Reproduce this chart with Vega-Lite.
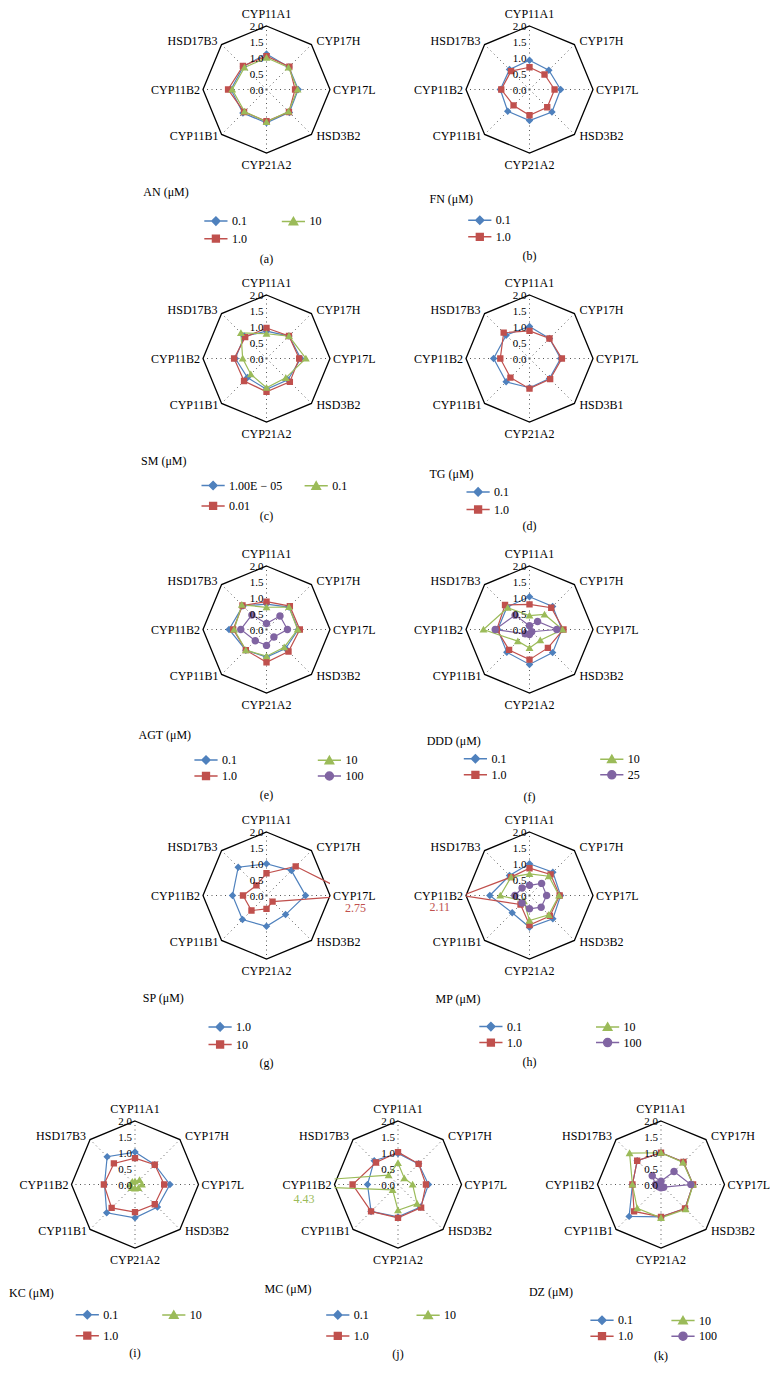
{
"$schema":"https://vega.github.io/schema/vega-lite/v6.json",
"background":"white",
"padding":{"left":8.5,"top":8,"right":5,"bottom":5},
"config":{"view":{"stroke":null},"text":{"font":"Liberation Serif","fontSize":12,"color":"black"},
"title":{"font":"Liberation Serif","fontSize":12,"fontWeight":"normal","color":"black","orient":"bottom","offset":6,"anchor":"middle","frame":"group"},
"legend":{"labelFont":"Liberation Serif","labelFontSize":12,"labelColor":"black","titleFont":"Liberation Serif","titleFontSize":12,"titleFontWeight":"normal","titleColor":"black","padding":0,"symbolStrokeWidth":1.5,"titleAnchor":"start","symbolSize":64,"labelOffset":10,"orient":"none"}},
"datasets":{
"ticks":[{"v":0},{"v":0.5},{"v":1},{"v":1.5},{"v":2}],
"a":[{"s":"0.1","g":"CYP11A1","v":1.12},{"s":"0.1","g":"CYP17H","v":1.0},{"s":"0.1","g":"CYP17L","v":1.0},{"s":"0.1","g":"HSD3B2","v":1.02},{"s":"0.1","g":"CYP21A2","v":1.05},{"s":"0.1","g":"CYP11B1","v":1.05},{"s":"0.1","g":"CYP11B2","v":1.12},{"s":"0.1","g":"HSD17B3","v":1.03},
{"s":"1.0","g":"CYP11A1","v":1.05},{"s":"1.0","g":"CYP17H","v":1.02},{"s":"1.0","g":"CYP17L","v":0.9},{"s":"1.0","g":"HSD3B2","v":1.0},{"s":"1.0","g":"CYP21A2","v":1.0},{"s":"1.0","g":"CYP11B1","v":1.0},{"s":"1.0","g":"CYP11B2","v":1.21},{"s":"1.0","g":"HSD17B3","v":1.05},
{"s":"10","g":"CYP11A1","v":1.0},{"s":"10","g":"CYP17H","v":0.98},{"s":"10","g":"CYP17L","v":0.98},{"s":"10","g":"HSD3B2","v":0.98},{"s":"10","g":"CYP21A2","v":1.02},{"s":"10","g":"CYP11B1","v":0.98},{"s":"10","g":"CYP11B2","v":1.08},{"s":"10","g":"HSD17B3","v":0.98}],
"b":[{"s":"0.1","g":"CYP11A1","v":0.92},{"s":"0.1","g":"CYP17H","v":0.86},{"s":"0.1","g":"CYP17L","v":0.98},{"s":"0.1","g":"HSD3B2","v":1.0},{"s":"0.1","g":"CYP21A2","v":0.98},{"s":"0.1","g":"CYP11B1","v":0.97},{"s":"0.1","g":"CYP11B2","v":0.92},{"s":"0.1","g":"HSD17B3","v":0.89},
{"s":"1.0","g":"CYP11A1","v":0.7},{"s":"1.0","g":"CYP17H","v":0.67},{"s":"1.0","g":"CYP17L","v":0.79},{"s":"1.0","g":"HSD3B2","v":0.79},{"s":"1.0","g":"CYP21A2","v":0.81},{"s":"1.0","g":"CYP11B1","v":0.71},{"s":"1.0","g":"CYP11B2","v":0.89},{"s":"1.0","g":"HSD17B3","v":0.82}],
"c":[{"s":"1.00E − 05","g":"CYP11A1","v":0.86},{"s":"1.00E − 05","g":"CYP17H","v":1.0},{"s":"1.00E − 05","g":"CYP17L","v":1.08},{"s":"1.00E − 05","g":"HSD3B2","v":0.95},{"s":"1.00E − 05","g":"CYP21A2","v":0.97},{"s":"1.00E − 05","g":"CYP11B1","v":0.85},{"s":"1.00E − 05","g":"CYP11B2","v":0.98},{"s":"1.00E − 05","g":"HSD17B3","v":0.99},
{"s":"0.01","g":"CYP11A1","v":0.96},{"s":"0.01","g":"CYP17H","v":1.0},{"s":"0.01","g":"CYP17L","v":1.03},{"s":"0.01","g":"HSD3B2","v":1.04},{"s":"0.01","g":"CYP21A2","v":1.05},{"s":"0.01","g":"CYP11B1","v":1.0},{"s":"0.01","g":"CYP11B2","v":1.02},{"s":"0.01","g":"HSD17B3","v":0.95},
{"s":"0.1","g":"CYP11A1","v":0.78},{"s":"0.1","g":"CYP17H","v":1.0},{"s":"0.1","g":"CYP17L","v":1.24},{"s":"0.1","g":"HSD3B2","v":0.86},{"s":"0.1","g":"CYP21A2","v":0.92},{"s":"0.1","g":"CYP11B1","v":0.7},{"s":"0.1","g":"CYP11B2","v":0.75},{"s":"0.1","g":"HSD17B3","v":1.14}],
"d":[{"s":"0.1","g":"CYP11A1","v":1.01},{"s":"0.1","g":"CYP17H","v":0.89},{"s":"0.1","g":"CYP17L","v":0.98},{"s":"0.1","g":"HSD3B1","v":0.89},{"s":"0.1","g":"CYP21A2","v":0.92},{"s":"0.1","g":"CYP11B1","v":1.04},{"s":"0.1","g":"CYP11B2","v":1.13},{"s":"0.1","g":"HSD17B3","v":1.04},
{"s":"1.0","g":"CYP11A1","v":0.87},{"s":"1.0","g":"CYP17H","v":0.89},{"s":"1.0","g":"CYP17L","v":1.02},{"s":"1.0","g":"HSD3B1","v":0.92},{"s":"1.0","g":"CYP21A2","v":0.95},{"s":"1.0","g":"CYP11B1","v":0.85},{"s":"1.0","g":"CYP11B2","v":0.92},{"s":"1.0","g":"HSD17B3","v":1.15}],
"e":[{"s":"0.1","g":"CYP11A1","v":0.8},{"s":"0.1","g":"CYP17H","v":1.0},{"s":"0.1","g":"CYP17L","v":1.0},{"s":"0.1","g":"HSD3B2","v":0.85},{"s":"0.1","g":"CYP21A2","v":0.87},{"s":"0.1","g":"CYP11B1","v":0.92},{"s":"0.1","g":"CYP11B2","v":1.18},{"s":"0.1","g":"HSD17B3","v":1.05},
{"s":"1.0","g":"CYP11A1","v":0.88},{"s":"1.0","g":"CYP17H","v":1.04},{"s":"1.0","g":"CYP17L","v":1.05},{"s":"1.0","g":"HSD3B2","v":0.98},{"s":"1.0","g":"CYP21A2","v":1.03},{"s":"1.0","g":"CYP11B1","v":0.92},{"s":"1.0","g":"CYP11B2","v":1.05},{"s":"1.0","g":"HSD17B3","v":1.07},
{"s":"10","g":"CYP11A1","v":0.7},{"s":"10","g":"CYP17H","v":1.0},{"s":"10","g":"CYP17L","v":0.98},{"s":"10","g":"HSD3B2","v":0.79},{"s":"10","g":"CYP21A2","v":0.84},{"s":"10","g":"CYP11B1","v":0.92},{"s":"10","g":"CYP11B2","v":1.02},{"s":"10","g":"HSD17B3","v":1.1},
{"s":"100","g":"CYP11A1","v":0.19},{"s":"100","g":"CYP17H","v":0.6},{"s":"100","g":"CYP17L","v":0.66},{"s":"100","g":"HSD3B2","v":0.33},{"s":"100","g":"CYP21A2","v":0.5},{"s":"100","g":"CYP11B1","v":0.5},{"s":"100","g":"CYP11B2","v":0.81},{"s":"100","g":"HSD17B3","v":0.65}],
"f":[{"s":"0.1","g":"CYP11A1","v":1.03},{"s":"0.1","g":"CYP17H","v":1.03},{"s":"0.1","g":"CYP17L","v":1.02},{"s":"0.1","g":"HSD3B2","v":1.03},{"s":"0.1","g":"CYP21A2","v":1.1},{"s":"0.1","g":"CYP11B1","v":1.01},{"s":"0.1","g":"CYP11B2","v":1.0},{"s":"0.1","g":"HSD17B3","v":1.0},
{"s":"1.0","g":"CYP11A1","v":0.79},{"s":"1.0","g":"CYP17H","v":0.97},{"s":"1.0","g":"CYP17L","v":1.07},{"s":"1.0","g":"HSD3B2","v":0.82},{"s":"1.0","g":"CYP21A2","v":0.95},{"s":"1.0","g":"CYP11B1","v":0.91},{"s":"1.0","g":"CYP11B2","v":1.03},{"s":"1.0","g":"HSD17B3","v":1.09},
{"s":"10","g":"CYP11A1","v":0.44},{"s":"10","g":"CYP17H","v":0.67},{"s":"10","g":"CYP17L","v":1.04},{"s":"10","g":"HSD3B2","v":0.48},{"s":"10","g":"CYP21A2","v":0.58},{"s":"10","g":"CYP11B1","v":0.52},{"s":"10","g":"CYP11B2","v":1.45},{"s":"10","g":"HSD17B3","v":0.97},
{"s":"25","g":"CYP11A1","v":0.12},{"s":"25","g":"CYP17H","v":0.36},{"s":"25","g":"CYP17L","v":0.86},{"s":"25","g":"HSD3B2","v":0.1},{"s":"25","g":"CYP21A2","v":0.16},{"s":"25","g":"CYP11B1","v":0.19},{"s":"25","g":"CYP11B2","v":1.08},{"s":"25","g":"HSD17B3","v":0.64}],
"g":[{"s":"1.0","g":"CYP11A1","v":1.0},{"s":"1.0","g":"CYP17H","v":1.11},{"s":"1.0","g":"CYP17L","v":1.23},{"s":"1.0","g":"HSD3B2","v":0.85},{"s":"1.0","g":"CYP21A2","v":0.97},{"s":"1.0","g":"CYP11B1","v":1.07},{"s":"1.0","g":"CYP11B2","v":1.07},{"s":"1.0","g":"HSD17B3","v":1.26},
{"s":"10","g":"CYP11A1","v":0.7},{"s":"10","g":"CYP17H","v":1.3},{"s":"10","g":"CYP17L","v":2.75},{"s":"10","g":"HSD3B2","v":0.27},{"s":"10","g":"CYP21A2","v":0.42},{"s":"10","g":"CYP11B1","v":0.67},{"s":"10","g":"CYP11B2","v":0.74},{"s":"10","g":"HSD17B3","v":0.45}],
"h":[{"s":"0.1","g":"CYP11A1","v":1.0},{"s":"0.1","g":"CYP17H","v":1.04},{"s":"0.1","g":"CYP17L","v":0.98},{"s":"0.1","g":"HSD3B2","v":1.04},{"s":"0.1","g":"CYP21A2","v":1.0},{"s":"0.1","g":"CYP11B1","v":0.77},{"s":"0.1","g":"CYP11B2","v":1.25},{"s":"0.1","g":"HSD17B3","v":0.89},
{"s":"1.0","g":"CYP11A1","v":0.86},{"s":"1.0","g":"CYP17H","v":0.94},{"s":"1.0","g":"CYP17L","v":0.95},{"s":"1.0","g":"HSD3B2","v":0.91},{"s":"1.0","g":"CYP21A2","v":0.93},{"s":"1.0","g":"CYP11B1","v":0.4},{"s":"1.0","g":"CYP11B2","v":2.11},{"s":"1.0","g":"HSD17B3","v":0.82},
{"s":"10","g":"CYP11A1","v":0.68},{"s":"10","g":"CYP17H","v":0.86},{"s":"10","g":"CYP17L","v":0.93},{"s":"10","g":"HSD3B2","v":0.86},{"s":"10","g":"CYP21A2","v":0.79},{"s":"10","g":"CYP11B1","v":0.25},{"s":"10","g":"CYP11B2","v":0.92},{"s":"10","g":"HSD17B3","v":0.82},
{"s":"100","g":"CYP11A1","v":0.32},{"s":"100","g":"CYP17H","v":0.54},{"s":"100","g":"CYP17L","v":0.54},{"s":"100","g":"HSD3B2","v":0.52},{"s":"100","g":"CYP21A2","v":0.42},{"s":"100","g":"CYP11B1","v":0.33},{"s":"100","g":"CYP11B2","v":0.46},{"s":"100","g":"HSD17B3","v":0.33}],
"i":[{"s":"0.1","g":"CYP11A1","v":1.02},{"s":"0.1","g":"CYP17H","v":0.88},{"s":"0.1","g":"CYP17L","v":1.1},{"s":"0.1","g":"HSD3B2","v":1.0},{"s":"0.1","g":"CYP21A2","v":1.05},{"s":"0.1","g":"CYP11B1","v":1.26},{"s":"0.1","g":"CYP11B2","v":0.96},{"s":"0.1","g":"HSD17B3","v":1.24},
{"s":"1.0","g":"CYP11A1","v":0.83},{"s":"1.0","g":"CYP17H","v":0.88},{"s":"1.0","g":"CYP17L","v":0.92},{"s":"1.0","g":"HSD3B2","v":0.88},{"s":"1.0","g":"CYP21A2","v":0.87},{"s":"1.0","g":"CYP11B1","v":1.04},{"s":"1.0","g":"CYP11B2","v":0.98},{"s":"1.0","g":"HSD17B3","v":0.94},
{"s":"10","g":"CYP11A1","v":0.1},{"s":"10","g":"CYP17H","v":0.2},{"s":"10","g":"CYP17L","v":0.22},{"s":"10","g":"HSD3B2","v":0.15},{"s":"10","g":"CYP21A2","v":0.12},{"s":"10","g":"CYP11B1","v":0.15},{"s":"10","g":"CYP11B2","v":0.15},{"s":"10","g":"HSD17B3","v":0.12}],
"j":[{"s":"0.1","g":"CYP11A1","v":0.98},{"s":"0.1","g":"CYP17H","v":0.92},{"s":"0.1","g":"CYP17L","v":0.96},{"s":"0.1","g":"HSD3B2","v":1.0},{"s":"0.1","g":"CYP21A2","v":1.02},{"s":"0.1","g":"CYP11B1","v":1.2},{"s":"0.1","g":"CYP11B2","v":0.96},{"s":"0.1","g":"HSD17B3","v":1.06},
{"s":"1.0","g":"CYP11A1","v":1.02},{"s":"1.0","g":"CYP17H","v":0.92},{"s":"1.0","g":"CYP17L","v":0.88},{"s":"1.0","g":"HSD3B2","v":1.03},{"s":"1.0","g":"CYP21A2","v":1.05},{"s":"1.0","g":"CYP11B1","v":1.2},{"s":"1.0","g":"CYP11B2","v":1.43},{"s":"1.0","g":"HSD17B3","v":0.98},
{"s":"10","g":"CYP11A1","v":0.68},{"s":"10","g":"CYP17H","v":0.28},{"s":"10","g":"CYP17L","v":0.46},{"s":"10","g":"HSD3B2","v":0.85},{"s":"10","g":"CYP21A2","v":0.81},{"s":"10","g":"CYP11B1","v":0.24},{"s":"10","g":"CYP11B2","v":4.43},{"s":"10","g":"HSD17B3","v":0.42}],
"k":[{"s":"0.1","g":"CYP11A1","v":1.0},{"s":"0.1","g":"CYP17H","v":1.0},{"s":"0.1","g":"CYP17L","v":1.01},{"s":"0.1","g":"HSD3B2","v":1.07},{"s":"0.1","g":"CYP21A2","v":1.02},{"s":"0.1","g":"CYP11B1","v":1.42},{"s":"0.1","g":"CYP11B2","v":0.9},{"s":"0.1","g":"HSD17B3","v":1.06},
{"s":"1.0","g":"CYP11A1","v":1.0},{"s":"1.0","g":"CYP17H","v":1.0},{"s":"1.0","g":"CYP17L","v":1.01},{"s":"1.0","g":"HSD3B2","v":1.07},{"s":"1.0","g":"CYP21A2","v":1.02},{"s":"1.0","g":"CYP11B1","v":1.2},{"s":"1.0","g":"CYP11B2","v":0.9},{"s":"1.0","g":"HSD17B3","v":1.06},
{"s":"10","g":"CYP11A1","v":1.0},{"s":"10","g":"CYP17H","v":0.98},{"s":"10","g":"CYP17L","v":1.01},{"s":"10","g":"HSD3B2","v":1.1},{"s":"10","g":"CYP21A2","v":1.05},{"s":"10","g":"CYP11B1","v":1.06},{"s":"10","g":"CYP11B2","v":0.9},{"s":"10","g":"HSD17B3","v":1.4},
{"s":"100","g":"CYP11A1","v":0.1},{"s":"100","g":"CYP17H","v":0.58},{"s":"100","g":"CYP17L","v":0.94},{"s":"100","g":"HSD3B2","v":0.12},{"s":"100","g":"CYP21A2","v":0.1},{"s":"100","g":"CYP11B1","v":0.1},{"s":"100","g":"CYP11B2","v":0.17},{"s":"100","g":"HSD17B3","v":0.39}]
},
"resolve":{"scale":{"color":"independent","shape":"independent"}},
"columns":5,"spacing":{"row":0,"column":4.5},"bounds":"flush",
"concat":[
{"width":1,"height":1,"data":{"values":[]},"mark":"point"},
{"width":127,"height":127,"data":{"name":"a"},"title":{"text":"(a)","offset":9.2},
"transform":[{"calculate":"datum.g == 'HSD3B1' ? 3 : indexof(['CYP11A1','CYP17H','CYP17L','HSD3B2','CYP21A2','CYP11B1','CYP11B2','HSD17B3'], datum.g)","as":"k"},{"calculate":"datum.k*PI/4","as":"t"},{"calculate":"datum.v*sin(datum.t)","as":"x"},{"calculate":"datum.v*cos(datum.t)","as":"y"},{"calculate":"2*sin(datum.t)","as":"ax"},{"calculate":"2*cos(datum.t)","as":"ay"},{"calculate":"0","as":"o"}],
"layer":[
{"transform":[{"filter":"datum.s=='0.1'"}],"mark":{"type":"rule","strokeDash":[1,3.5],"color":"#555","strokeWidth":1},"encoding":{"x":{"field":"o","type":"quantitative","scale":{"domain":[-2,2],"nice":false,"zero":false},"axis":null},"y":{"field":"o","type":"quantitative","scale":{"domain":[-2,2],"nice":false,"zero":false},"axis":null},"x2":{"field":"ax"},"y2":{"field":"ay"}}},
{"transform":[{"filter":"datum.s=='0.1'"}],"mark":{"type":"line","interpolate":"linear-closed","color":"black","strokeWidth":1.3},"encoding":{"x":{"field":"ax","type":"quantitative"},"y":{"field":"ay","type":"quantitative"},"order":{"field":"k"}}},
{"mark":{"type":"line","interpolate":"linear-closed","strokeWidth":1.2,"clip":true},"encoding":{"x":{"field":"x","type":"quantitative"},"y":{"field":"y","type":"quantitative"},"order":{"field":"k"},"color":{"field":"s","type":"nominal","scale":{"domain":["0.1","1.0","10"],"range":["#4F81BD","#C0504D","#9BBB59"]},"legend":{"legendX":-59.2,"legendY":161.2,"title":"AN (μM)","titleAlign":"right","columns":2,"columnPadding":18.5,"rowPadding":3.6,"titlePadding":15.9,"symbolOffset":21.1}}}},
{"mark":{"type":"point","filled":true,"size":56,"opacity":1,"clip":true},"encoding":{"x":{"field":"x","type":"quantitative"},"y":{"field":"y","type":"quantitative"},
"color":{"field":"s","type":"nominal","scale":{"domain":["0.1","1.0","10"],"range":["#4F81BD","#C0504D","#9BBB59"]},"legend":{"legendX":-59.2,"legendY":161.2,"title":"AN (μM)","titleAlign":"right","columns":2,"columnPadding":18.5,"rowPadding":3.6,"titlePadding":15.9,"symbolOffset":21.1}},
"shape":{"field":"s","type":"nominal","scale":{"domain":["0.1","1.0","10"],"range":["M-2.9,0H2.9M0,-1L1,0L0,1L-1,0Z","M-2.9,0H2.9M-0.85,-0.85H0.85V0.85H-0.85Z","M-2.9,0H2.9M0,-1L1.05,0.82H-1.05Z"]},"legend":{"legendX":-59.2,"legendY":161.2,"title":"AN (μM)","titleAlign":"right","columns":2,"columnPadding":18.5,"rowPadding":3.6,"titlePadding":15.9,"symbolOffset":21.1}}}},
{"data":{"name":"ticks"},"transform":[{"calculate":"0","as":"o"}],"mark":{"type":"text","align":"right","dx":-3,"dy":1,"fontSize":11,"baseline":"middle"},"encoding":{"x":{"field":"o","type":"quantitative"},"y":{"field":"v","type":"quantitative"},"text":{"field":"v","type":"quantitative","format":".1f"}}},
{"transform":[{"filter":"datum.s=='0.1'"}],"mark":{"type":"text","baseline":"middle","align":{"expr":"['center','left','left','left','center','right','right','right'][datum.k]"},"dx":{"expr":"[0,5,3,5,0,-3,-3,-4][datum.k]"},"dy":{"expr":"[-12,-4,0,2,12,2,0,-4][datum.k]"}},"encoding":{"x":{"field":"ax","type":"quantitative"},"y":{"field":"ay","type":"quantitative"},"text":{"field":"g"}}}
]},
{"width":1,"height":1,"data":{"values":[]},"mark":"point"},
{"width":127,"height":127,"data":{"name":"b"},"title":{"text":"(b)","offset":7.1},
"transform":[{"calculate":"datum.g == 'HSD3B1' ? 3 : indexof(['CYP11A1','CYP17H','CYP17L','HSD3B2','CYP21A2','CYP11B1','CYP11B2','HSD17B3'], datum.g)","as":"k"},{"calculate":"datum.k*PI/4","as":"t"},{"calculate":"datum.v*sin(datum.t)","as":"x"},{"calculate":"datum.v*cos(datum.t)","as":"y"},{"calculate":"2*sin(datum.t)","as":"ax"},{"calculate":"2*cos(datum.t)","as":"ay"},{"calculate":"0","as":"o"}],
"layer":[
{"transform":[{"filter":"datum.s=='0.1'"}],"mark":{"type":"rule","strokeDash":[1,3.5],"color":"#555","strokeWidth":1},"encoding":{"x":{"field":"o","type":"quantitative","scale":{"domain":[-2,2],"nice":false,"zero":false},"axis":null},"y":{"field":"o","type":"quantitative","scale":{"domain":[-2,2],"nice":false,"zero":false},"axis":null},"x2":{"field":"ax"},"y2":{"field":"ay"}}},
{"transform":[{"filter":"datum.s=='0.1'"}],"mark":{"type":"line","interpolate":"linear-closed","color":"black","strokeWidth":1.3},"encoding":{"x":{"field":"ax","type":"quantitative"},"y":{"field":"ay","type":"quantitative"},"order":{"field":"k"}}},
{"mark":{"type":"line","interpolate":"linear-closed","strokeWidth":1.2,"clip":true},"encoding":{"x":{"field":"x","type":"quantitative"},"y":{"field":"y","type":"quantitative"},"order":{"field":"k"},"color":{"field":"s","type":"nominal","scale":{"domain":["0.1","1.0"],"range":["#4F81BD","#C0504D"]},"legend":{"legendX":-36.5,"legendY":167.8,"title":"FN (μM)","columns":1,"rowPadding":2.6,"titlePadding":8.4,"symbolOffset":44.3}}}},
{"mark":{"type":"point","filled":true,"size":56,"opacity":1,"clip":true},"encoding":{"x":{"field":"x","type":"quantitative"},"y":{"field":"y","type":"quantitative"},
"color":{"field":"s","type":"nominal","scale":{"domain":["0.1","1.0"],"range":["#4F81BD","#C0504D"]},"legend":{"legendX":-36.5,"legendY":167.8,"title":"FN (μM)","columns":1,"rowPadding":2.6,"titlePadding":8.4,"symbolOffset":44.3}},
"shape":{"field":"s","type":"nominal","scale":{"domain":["0.1","1.0"],"range":["M-2.9,0H2.9M0,-1L1,0L0,1L-1,0Z","M-2.9,0H2.9M-0.85,-0.85H0.85V0.85H-0.85Z"]},"legend":{"legendX":-36.5,"legendY":167.8,"title":"FN (μM)","columns":1,"rowPadding":2.6,"titlePadding":8.4,"symbolOffset":44.3}}}},
{"data":{"name":"ticks"},"transform":[{"calculate":"0","as":"o"}],"mark":{"type":"text","align":"right","dx":-3,"dy":1,"fontSize":11,"baseline":"middle"},"encoding":{"x":{"field":"o","type":"quantitative"},"y":{"field":"v","type":"quantitative"},"text":{"field":"v","type":"quantitative","format":".1f"}}},
{"transform":[{"filter":"datum.s=='0.1'"}],"mark":{"type":"text","baseline":"middle","align":{"expr":"['center','left','left','left','center','right','right','right'][datum.k]"},"dx":{"expr":"[0,5,3,5,0,-3,-3,-4][datum.k]"},"dy":{"expr":"[-12,-4,0,2,12,2,0,-4][datum.k]"}},"encoding":{"x":{"field":"ax","type":"quantitative"},"y":{"field":"ay","type":"quantitative"},"text":{"field":"g"}}}
]},
{"width":1,"height":1,"data":{"values":[]},"mark":"point"},
{"width":1,"height":142,"data":{"values":[]},"mark":"point"},
{"width":1,"height":1,"data":{"values":[]},"mark":"point"},
{"width":1,"height":1,"data":{"values":[]},"mark":"point"},
{"width":1,"height":1,"data":{"values":[]},"mark":"point"},
{"width":1,"height":1,"data":{"values":[]},"mark":"point"},
{"width":1,"height":1,"data":{"values":[]},"mark":"point"},
{"width":127,"height":127,"data":{"name":"c"},"title":{"text":"(c)","offset":-1.7},
"transform":[{"calculate":"datum.g == 'HSD3B1' ? 3 : indexof(['CYP11A1','CYP17H','CYP17L','HSD3B2','CYP21A2','CYP11B1','CYP11B2','HSD17B3'], datum.g)","as":"k"},{"calculate":"datum.k*PI/4","as":"t"},{"calculate":"datum.v*sin(datum.t)","as":"x"},{"calculate":"datum.v*cos(datum.t)","as":"y"},{"calculate":"2*sin(datum.t)","as":"ax"},{"calculate":"2*cos(datum.t)","as":"ay"},{"calculate":"0","as":"o"}],
"layer":[
{"transform":[{"filter":"datum.s=='0.01'"}],"mark":{"type":"rule","strokeDash":[1,3.5],"color":"#555","strokeWidth":1},"encoding":{"x":{"field":"o","type":"quantitative","scale":{"domain":[-2,2],"nice":false,"zero":false},"axis":null},"y":{"field":"o","type":"quantitative","scale":{"domain":[-2,2],"nice":false,"zero":false},"axis":null},"x2":{"field":"ax"},"y2":{"field":"ay"}}},
{"transform":[{"filter":"datum.s=='0.01'"}],"mark":{"type":"line","interpolate":"linear-closed","color":"black","strokeWidth":1.3},"encoding":{"x":{"field":"ax","type":"quantitative"},"y":{"field":"ay","type":"quantitative"},"order":{"field":"k"}}},
{"mark":{"type":"line","interpolate":"linear-closed","strokeWidth":1.2,"clip":true},"encoding":{"x":{"field":"x","type":"quantitative"},"y":{"field":"y","type":"quantitative"},"order":{"field":"k"},"color":{"field":"s","type":"nominal","scale":{"domain":["1.00E − 05","0.01","0.1"],"range":["#4F81BD","#C0504D","#9BBB59"]},"legend":{"legendX":-61.5,"legendY":160.8,"title":"SM (μM)","titleAlign":"right","columns":2,"columnPadding":7.1,"rowPadding":6.4,"titlePadding":11.7,"symbolOffset":20.6}}}},
{"mark":{"type":"point","filled":true,"size":56,"opacity":1,"clip":true},"encoding":{"x":{"field":"x","type":"quantitative"},"y":{"field":"y","type":"quantitative"},
"color":{"field":"s","type":"nominal","scale":{"domain":["1.00E − 05","0.01","0.1"],"range":["#4F81BD","#C0504D","#9BBB59"]},"legend":{"legendX":-61.5,"legendY":160.8,"title":"SM (μM)","titleAlign":"right","columns":2,"columnPadding":7.1,"rowPadding":6.4,"titlePadding":11.7,"symbolOffset":20.6}},
"shape":{"field":"s","type":"nominal","scale":{"domain":["1.00E − 05","0.01","0.1"],"range":["M-2.9,0H2.9M0,-1L1,0L0,1L-1,0Z","M-2.9,0H2.9M-0.85,-0.85H0.85V0.85H-0.85Z","M-2.9,0H2.9M0,-1L1.05,0.82H-1.05Z"]},"legend":{"legendX":-61.5,"legendY":160.8,"title":"SM (μM)","titleAlign":"right","columns":2,"columnPadding":7.1,"rowPadding":6.4,"titlePadding":11.7,"symbolOffset":20.6}}}},
{"data":{"name":"ticks"},"transform":[{"calculate":"0","as":"o"}],"mark":{"type":"text","align":"right","dx":-3,"dy":1,"fontSize":11,"baseline":"middle"},"encoding":{"x":{"field":"o","type":"quantitative"},"y":{"field":"v","type":"quantitative"},"text":{"field":"v","type":"quantitative","format":".1f"}}},
{"transform":[{"filter":"datum.s=='0.01'"}],"mark":{"type":"text","baseline":"middle","align":{"expr":"['center','left','left','left','center','right','right','right'][datum.k]"},"dx":{"expr":"[0,5,3,5,0,-3,-3,-4][datum.k]"},"dy":{"expr":"[-12,-4,0,2,12,2,0,-4][datum.k]"}},"encoding":{"x":{"field":"ax","type":"quantitative"},"y":{"field":"ay","type":"quantitative"},"text":{"field":"g"}}}
]},
{"width":1,"height":1,"data":{"values":[]},"mark":"point"},
{"width":127,"height":127,"data":{"name":"d"},"title":{"text":"(d)","offset":4.8},
"transform":[{"calculate":"datum.g == 'HSD3B1' ? 3 : indexof(['CYP11A1','CYP17H','CYP17L','HSD3B2','CYP21A2','CYP11B1','CYP11B2','HSD17B3'], datum.g)","as":"k"},{"calculate":"datum.k*PI/4","as":"t"},{"calculate":"datum.v*sin(datum.t)","as":"x"},{"calculate":"datum.v*cos(datum.t)","as":"y"},{"calculate":"2*sin(datum.t)","as":"ax"},{"calculate":"2*cos(datum.t)","as":"ay"},{"calculate":"0","as":"o"}],
"layer":[
{"transform":[{"filter":"datum.s=='0.1'"}],"mark":{"type":"rule","strokeDash":[1,3.5],"color":"#555","strokeWidth":1},"encoding":{"x":{"field":"o","type":"quantitative","scale":{"domain":[-2,2],"nice":false,"zero":false},"axis":null},"y":{"field":"o","type":"quantitative","scale":{"domain":[-2,2],"nice":false,"zero":false},"axis":null},"x2":{"field":"ax"},"y2":{"field":"ay"}}},
{"transform":[{"filter":"datum.s=='0.1'"}],"mark":{"type":"line","interpolate":"linear-closed","color":"black","strokeWidth":1.3},"encoding":{"x":{"field":"ax","type":"quantitative"},"y":{"field":"ay","type":"quantitative"},"order":{"field":"k"}}},
{"mark":{"type":"line","interpolate":"linear-closed","strokeWidth":1.2,"clip":true},"encoding":{"x":{"field":"x","type":"quantitative"},"y":{"field":"y","type":"quantitative"},"order":{"field":"k"},"color":{"field":"s","type":"nominal","scale":{"domain":["0.1","1.0"],"range":["#4F81BD","#C0504D"]},"legend":{"legendX":-36.5,"legendY":173.5,"title":"TG (μM)","columns":1,"rowPadding":3.6,"titlePadding":5.4,"symbolOffset":42.6}}}},
{"mark":{"type":"point","filled":true,"size":56,"opacity":1,"clip":true},"encoding":{"x":{"field":"x","type":"quantitative"},"y":{"field":"y","type":"quantitative"},
"color":{"field":"s","type":"nominal","scale":{"domain":["0.1","1.0"],"range":["#4F81BD","#C0504D"]},"legend":{"legendX":-36.5,"legendY":173.5,"title":"TG (μM)","columns":1,"rowPadding":3.6,"titlePadding":5.4,"symbolOffset":42.6}},
"shape":{"field":"s","type":"nominal","scale":{"domain":["0.1","1.0"],"range":["M-2.9,0H2.9M0,-1L1,0L0,1L-1,0Z","M-2.9,0H2.9M-0.85,-0.85H0.85V0.85H-0.85Z"]},"legend":{"legendX":-36.5,"legendY":173.5,"title":"TG (μM)","columns":1,"rowPadding":3.6,"titlePadding":5.4,"symbolOffset":42.6}}}},
{"data":{"name":"ticks"},"transform":[{"calculate":"0","as":"o"}],"mark":{"type":"text","align":"right","dx":-3,"dy":1,"fontSize":11,"baseline":"middle"},"encoding":{"x":{"field":"o","type":"quantitative"},"y":{"field":"v","type":"quantitative"},"text":{"field":"v","type":"quantitative","format":".1f"}}},
{"transform":[{"filter":"datum.s=='0.1'"}],"mark":{"type":"text","baseline":"middle","align":{"expr":"['center','left','left','left','center','right','right','right'][datum.k]"},"dx":{"expr":"[0,5,3,5,0,-3,-3,-4][datum.k]"},"dy":{"expr":"[-12,-4,0,2,12,2,0,-4][datum.k]"}},"encoding":{"x":{"field":"ax","type":"quantitative"},"y":{"field":"ay","type":"quantitative"},"text":{"field":"g"}}}
]},
{"width":1,"height":1,"data":{"values":[]},"mark":"point"},
{"width":1,"height":143.5,"data":{"values":[]},"mark":"point"},
{"width":1,"height":1,"data":{"values":[]},"mark":"point"},
{"width":1,"height":1,"data":{"values":[]},"mark":"point"},
{"width":1,"height":1,"data":{"values":[]},"mark":"point"},
{"width":1,"height":1,"data":{"values":[]},"mark":"point"},
{"width":1,"height":1,"data":{"values":[]},"mark":"point"},
{"width":127,"height":127,"data":{"name":"e"},"title":{"text":"(e)","offset":7.4},
"transform":[{"calculate":"datum.g == 'HSD3B1' ? 3 : indexof(['CYP11A1','CYP17H','CYP17L','HSD3B2','CYP21A2','CYP11B1','CYP11B2','HSD17B3'], datum.g)","as":"k"},{"calculate":"datum.k*PI/4","as":"t"},{"calculate":"datum.v*sin(datum.t)","as":"x"},{"calculate":"datum.v*cos(datum.t)","as":"y"},{"calculate":"2*sin(datum.t)","as":"ax"},{"calculate":"2*cos(datum.t)","as":"ay"},{"calculate":"0","as":"o"}],
"layer":[
{"transform":[{"filter":"datum.s=='0.1'"}],"mark":{"type":"rule","strokeDash":[1,3.5],"color":"#555","strokeWidth":1},"encoding":{"x":{"field":"o","type":"quantitative","scale":{"domain":[-2,2],"nice":false,"zero":false},"axis":null},"y":{"field":"o","type":"quantitative","scale":{"domain":[-2,2],"nice":false,"zero":false},"axis":null},"x2":{"field":"ax"},"y2":{"field":"ay"}}},
{"transform":[{"filter":"datum.s=='0.1'"}],"mark":{"type":"line","interpolate":"linear-closed","color":"black","strokeWidth":1.3},"encoding":{"x":{"field":"ax","type":"quantitative"},"y":{"field":"ay","type":"quantitative"},"order":{"field":"k"}}},
{"mark":{"type":"line","interpolate":"linear-closed","strokeWidth":1.2,"clip":true},"encoding":{"x":{"field":"x","type":"quantitative"},"y":{"field":"y","type":"quantitative"},"order":{"field":"k"},"color":{"field":"s","type":"nominal","scale":{"domain":["0.1","1.0","10","100"],"range":["#4F81BD","#C0504D","#9BBB59","#8064A2"]},"legend":{"legendX":-64.5,"legendY":164,"title":"AGT (μM)","columns":2,"columnPadding":24.4,"rowPadding":2,"titlePadding":12,"symbolOffset":61.5}}}},
{"mark":{"type":"point","filled":true,"size":56,"opacity":1,"clip":true},"encoding":{"x":{"field":"x","type":"quantitative"},"y":{"field":"y","type":"quantitative"},
"color":{"field":"s","type":"nominal","scale":{"domain":["0.1","1.0","10","100"],"range":["#4F81BD","#C0504D","#9BBB59","#8064A2"]},"legend":{"legendX":-64.5,"legendY":164,"title":"AGT (μM)","columns":2,"columnPadding":24.4,"rowPadding":2,"titlePadding":12,"symbolOffset":61.5}},
"shape":{"field":"s","type":"nominal","scale":{"domain":["0.1","1.0","10","100"],"range":["M-2.9,0H2.9M0,-1L1,0L0,1L-1,0Z","M-2.9,0H2.9M-0.85,-0.85H0.85V0.85H-0.85Z","M-2.9,0H2.9M0,-1L1.05,0.82H-1.05Z","M-2.9,0H2.9M-1,0A1,1,0,1,1,1,0A1,1,0,1,1,-1,0Z"]},"legend":{"legendX":-64.5,"legendY":164,"title":"AGT (μM)","columns":2,"columnPadding":24.4,"rowPadding":2,"titlePadding":12,"symbolOffset":61.5}}}},
{"data":{"name":"ticks"},"transform":[{"calculate":"0","as":"o"}],"mark":{"type":"text","align":"right","dx":-3,"dy":1,"fontSize":11,"baseline":"middle"},"encoding":{"x":{"field":"o","type":"quantitative"},"y":{"field":"v","type":"quantitative"},"text":{"field":"v","type":"quantitative","format":".1f"}}},
{"transform":[{"filter":"datum.s=='0.1'"}],"mark":{"type":"text","baseline":"middle","align":{"expr":"['center','left','left','left','center','right','right','right'][datum.k]"},"dx":{"expr":"[0,5,3,5,0,-3,-3,-4][datum.k]"},"dy":{"expr":"[-12,-4,0,2,12,2,0,-4][datum.k]"}},"encoding":{"x":{"field":"ax","type":"quantitative"},"y":{"field":"ay","type":"quantitative"},"text":{"field":"g"}}}
]},
{"width":1,"height":1,"data":{"values":[]},"mark":"point"},
{"width":127,"height":127,"data":{"name":"f"},"title":{"text":"(f)","offset":10.4},
"transform":[{"calculate":"datum.g == 'HSD3B1' ? 3 : indexof(['CYP11A1','CYP17H','CYP17L','HSD3B2','CYP21A2','CYP11B1','CYP11B2','HSD17B3'], datum.g)","as":"k"},{"calculate":"datum.k*PI/4","as":"t"},{"calculate":"datum.v*sin(datum.t)","as":"x"},{"calculate":"datum.v*cos(datum.t)","as":"y"},{"calculate":"2*sin(datum.t)","as":"ax"},{"calculate":"2*cos(datum.t)","as":"ay"},{"calculate":"0","as":"o"}],
"layer":[
{"transform":[{"filter":"datum.s=='0.1'"}],"mark":{"type":"rule","strokeDash":[1,3.5],"color":"#555","strokeWidth":1},"encoding":{"x":{"field":"o","type":"quantitative","scale":{"domain":[-2,2],"nice":false,"zero":false},"axis":null},"y":{"field":"o","type":"quantitative","scale":{"domain":[-2,2],"nice":false,"zero":false},"axis":null},"x2":{"field":"ax"},"y2":{"field":"ay"}}},
{"transform":[{"filter":"datum.s=='0.1'"}],"mark":{"type":"line","interpolate":"linear-closed","color":"black","strokeWidth":1.3},"encoding":{"x":{"field":"ax","type":"quantitative"},"y":{"field":"ay","type":"quantitative"},"order":{"field":"k"}}},
{"mark":{"type":"line","interpolate":"linear-closed","strokeWidth":1.2,"clip":true},"encoding":{"x":{"field":"x","type":"quantitative"},"y":{"field":"y","type":"quantitative"},"order":{"field":"k"},"color":{"field":"s","type":"nominal","scale":{"domain":["0.1","1.0","10","25"],"range":["#4F81BD","#C0504D","#9BBB59","#8064A2"]},"legend":{"legendX":-39.3,"legendY":169.8,"title":"DDD (μM)","columns":2,"columnPadding":56.4,"rowPadding":2,"titlePadding":5,"symbolOffset":42.7}}}},
{"mark":{"type":"point","filled":true,"size":56,"opacity":1,"clip":true},"encoding":{"x":{"field":"x","type":"quantitative"},"y":{"field":"y","type":"quantitative"},
"color":{"field":"s","type":"nominal","scale":{"domain":["0.1","1.0","10","25"],"range":["#4F81BD","#C0504D","#9BBB59","#8064A2"]},"legend":{"legendX":-39.3,"legendY":169.8,"title":"DDD (μM)","columns":2,"columnPadding":56.4,"rowPadding":2,"titlePadding":5,"symbolOffset":42.7}},
"shape":{"field":"s","type":"nominal","scale":{"domain":["0.1","1.0","10","25"],"range":["M-2.9,0H2.9M0,-1L1,0L0,1L-1,0Z","M-2.9,0H2.9M-0.85,-0.85H0.85V0.85H-0.85Z","M-2.9,0H2.9M0,-1L1.05,0.82H-1.05Z","M-2.9,0H2.9M-1,0A1,1,0,1,1,1,0A1,1,0,1,1,-1,0Z"]},"legend":{"legendX":-39.3,"legendY":169.8,"title":"DDD (μM)","columns":2,"columnPadding":56.4,"rowPadding":2,"titlePadding":5,"symbolOffset":42.7}}}},
{"data":{"name":"ticks"},"transform":[{"calculate":"0","as":"o"}],"mark":{"type":"text","align":"right","dx":-3,"dy":1,"fontSize":11,"baseline":"middle"},"encoding":{"x":{"field":"o","type":"quantitative"},"y":{"field":"v","type":"quantitative"},"text":{"field":"v","type":"quantitative","format":".1f"}}},
{"transform":[{"filter":"datum.s=='0.1'"}],"mark":{"type":"text","baseline":"middle","align":{"expr":"['center','left','left','left','center','right','right','right'][datum.k]"},"dx":{"expr":"[0,5,3,5,0,-3,-3,-4][datum.k]"},"dy":{"expr":"[-12,-4,0,2,12,2,0,-4][datum.k]"}},"encoding":{"x":{"field":"ax","type":"quantitative"},"y":{"field":"ay","type":"quantitative"},"text":{"field":"g"}}}
]},
{"width":1,"height":1,"data":{"values":[]},"mark":"point"},
{"width":1,"height":139,"data":{"values":[]},"mark":"point"},
{"width":1,"height":1,"data":{"values":[]},"mark":"point"},
{"width":1,"height":1,"data":{"values":[]},"mark":"point"},
{"width":1,"height":1,"data":{"values":[]},"mark":"point"},
{"width":1,"height":1,"data":{"values":[]},"mark":"point"},
{"width":1,"height":1,"data":{"values":[]},"mark":"point"},
{"width":127,"height":127,"data":{"name":"g"},"title":{"text":"(g)","offset":7.1},
"transform":[{"calculate":"datum.g == 'HSD3B1' ? 3 : indexof(['CYP11A1','CYP17H','CYP17L','HSD3B2','CYP21A2','CYP11B1','CYP11B2','HSD17B3'], datum.g)","as":"k"},{"calculate":"datum.k*PI/4","as":"t"},{"calculate":"datum.v*sin(datum.t)","as":"x"},{"calculate":"datum.v*cos(datum.t)","as":"y"},{"calculate":"2*sin(datum.t)","as":"ax"},{"calculate":"2*cos(datum.t)","as":"ay"},{"calculate":"0","as":"o"}],
"layer":[
{"transform":[{"filter":"datum.s=='1.0'"}],"mark":{"type":"rule","strokeDash":[1,3.5],"color":"#555","strokeWidth":1},"encoding":{"x":{"field":"o","type":"quantitative","scale":{"domain":[-2,2],"nice":false,"zero":false},"axis":null},"y":{"field":"o","type":"quantitative","scale":{"domain":[-2,2],"nice":false,"zero":false},"axis":null},"x2":{"field":"ax"},"y2":{"field":"ay"}}},
{"transform":[{"filter":"datum.s=='1.0'"}],"mark":{"type":"line","interpolate":"linear-closed","color":"black","strokeWidth":1.3},"encoding":{"x":{"field":"ax","type":"quantitative"},"y":{"field":"ay","type":"quantitative"},"order":{"field":"k"}}},
{"mark":{"type":"line","interpolate":"linear-closed","strokeWidth":1.2,"clip":true},"encoding":{"x":{"field":"x","type":"quantitative"},"y":{"field":"y","type":"quantitative"},"order":{"field":"k"},"color":{"field":"s","type":"nominal","scale":{"domain":["1.0","10"],"range":["#4F81BD","#C0504D"]},"legend":{"legendX":-60.2,"legendY":161.2,"title":"SP (μM)","columns":1,"rowPadding":3.6,"titlePadding":15.7,"symbolOffset":71.3}}}},
{"mark":{"type":"point","filled":true,"size":56,"opacity":1,"clip":true},"encoding":{"x":{"field":"x","type":"quantitative"},"y":{"field":"y","type":"quantitative"},
"color":{"field":"s","type":"nominal","scale":{"domain":["1.0","10"],"range":["#4F81BD","#C0504D"]},"legend":{"legendX":-60.2,"legendY":161.2,"title":"SP (μM)","columns":1,"rowPadding":3.6,"titlePadding":15.7,"symbolOffset":71.3}},
"shape":{"field":"s","type":"nominal","scale":{"domain":["1.0","10"],"range":["M-2.9,0H2.9M0,-1L1,0L0,1L-1,0Z","M-2.9,0H2.9M-0.85,-0.85H0.85V0.85H-0.85Z"]},"legend":{"legendX":-60.2,"legendY":161.2,"title":"SP (μM)","columns":1,"rowPadding":3.6,"titlePadding":15.7,"symbolOffset":71.3}}}},
{"transform":[{"filter":"datum.v > 2"}],"mark":{"type":"text","baseline":"middle","align":{"expr":"['center','left','left','left','center','right','right','right'][datum.k]"},"dx":{"expr":"[0,15,15,15,0,-17,-17,-17][datum.k]"},"dy":12},"encoding":{"x":{"field":"ax","type":"quantitative"},"y":{"field":"ay","type":"quantitative"},"text":{"field":"v","type":"quantitative","format":".2f"},"color":{"field":"s","type":"nominal","scale":{"domain":["1.0","10"],"range":["#4F81BD","#C0504D"]},"legend":null}}},
{"data":{"name":"ticks"},"transform":[{"calculate":"0","as":"o"}],"mark":{"type":"text","align":"right","dx":-3,"dy":1,"fontSize":11,"baseline":"middle"},"encoding":{"x":{"field":"o","type":"quantitative"},"y":{"field":"v","type":"quantitative"},"text":{"field":"v","type":"quantitative","format":".1f"}}},
{"transform":[{"filter":"datum.s=='1.0'"}],"mark":{"type":"text","baseline":"middle","align":{"expr":"['center','left','left','left','center','right','right','right'][datum.k]"},"dx":{"expr":"[0,5,3,5,0,-3,-3,-4][datum.k]"},"dy":{"expr":"[-12,-4,0,2,12,2,0,-4][datum.k]"}},"encoding":{"x":{"field":"ax","type":"quantitative"},"y":{"field":"ay","type":"quantitative"},"text":{"field":"g"}}}
]},
{"width":1,"height":1,"data":{"values":[]},"mark":"point"},
{"width":127,"height":127,"data":{"name":"h"},"title":{"text":"(h)","offset":6},
"transform":[{"calculate":"datum.g == 'HSD3B1' ? 3 : indexof(['CYP11A1','CYP17H','CYP17L','HSD3B2','CYP21A2','CYP11B1','CYP11B2','HSD17B3'], datum.g)","as":"k"},{"calculate":"datum.k*PI/4","as":"t"},{"calculate":"datum.v*sin(datum.t)","as":"x"},{"calculate":"datum.v*cos(datum.t)","as":"y"},{"calculate":"2*sin(datum.t)","as":"ax"},{"calculate":"2*cos(datum.t)","as":"ay"},{"calculate":"0","as":"o"}],
"layer":[
{"transform":[{"filter":"datum.s=='0.1'"}],"mark":{"type":"rule","strokeDash":[1,3.5],"color":"#555","strokeWidth":1},"encoding":{"x":{"field":"o","type":"quantitative","scale":{"domain":[-2,2],"nice":false,"zero":false},"axis":null},"y":{"field":"o","type":"quantitative","scale":{"domain":[-2,2],"nice":false,"zero":false},"axis":null},"x2":{"field":"ax"},"y2":{"field":"ay"}}},
{"transform":[{"filter":"datum.s=='0.1'"}],"mark":{"type":"line","interpolate":"linear-closed","color":"black","strokeWidth":1.3},"encoding":{"x":{"field":"ax","type":"quantitative"},"y":{"field":"ay","type":"quantitative"},"order":{"field":"k"}}},
{"mark":{"type":"line","interpolate":"linear-closed","strokeWidth":1.2,"clip":true},"encoding":{"x":{"field":"x","type":"quantitative"},"y":{"field":"y","type":"quantitative"},"order":{"field":"k"},"color":{"field":"s","type":"nominal","scale":{"domain":["0.1","1.0","10","100"],"range":["#4F81BD","#C0504D","#9BBB59","#8064A2"]},"legend":{"legendX":-30.5,"legendY":161.5,"title":"MP (μM)","columns":2,"columnPadding":29.7,"rowPadding":2,"titlePadding":15.1,"symbolOffset":49.4}}}},
{"mark":{"type":"point","filled":true,"size":56,"opacity":1,"clip":true},"encoding":{"x":{"field":"x","type":"quantitative"},"y":{"field":"y","type":"quantitative"},
"color":{"field":"s","type":"nominal","scale":{"domain":["0.1","1.0","10","100"],"range":["#4F81BD","#C0504D","#9BBB59","#8064A2"]},"legend":{"legendX":-30.5,"legendY":161.5,"title":"MP (μM)","columns":2,"columnPadding":29.7,"rowPadding":2,"titlePadding":15.1,"symbolOffset":49.4}},
"shape":{"field":"s","type":"nominal","scale":{"domain":["0.1","1.0","10","100"],"range":["M-2.9,0H2.9M0,-1L1,0L0,1L-1,0Z","M-2.9,0H2.9M-0.85,-0.85H0.85V0.85H-0.85Z","M-2.9,0H2.9M0,-1L1.05,0.82H-1.05Z","M-2.9,0H2.9M-1,0A1,1,0,1,1,1,0A1,1,0,1,1,-1,0Z"]},"legend":{"legendX":-30.5,"legendY":161.5,"title":"MP (μM)","columns":2,"columnPadding":29.7,"rowPadding":2,"titlePadding":15.1,"symbolOffset":49.4}}}},
{"transform":[{"filter":"datum.v > 2"}],"mark":{"type":"text","baseline":"middle","align":{"expr":"['center','left','left','left','center','right','right','right'][datum.k]"},"dx":{"expr":"[0,15,15,15,0,-16,-16,-16][datum.k]"},"dy":11},"encoding":{"x":{"field":"ax","type":"quantitative"},"y":{"field":"ay","type":"quantitative"},"text":{"field":"v","type":"quantitative","format":".2f"},"color":{"field":"s","type":"nominal","scale":{"domain":["0.1","1.0","10","100"],"range":["#4F81BD","#C0504D","#9BBB59","#8064A2"]},"legend":null}}},
{"data":{"name":"ticks"},"transform":[{"calculate":"0","as":"o"}],"mark":{"type":"text","align":"right","dx":-3,"dy":1,"fontSize":11,"baseline":"middle"},"encoding":{"x":{"field":"o","type":"quantitative"},"y":{"field":"v","type":"quantitative"},"text":{"field":"v","type":"quantitative","format":".1f"}}},
{"transform":[{"filter":"datum.s=='0.1'"}],"mark":{"type":"text","baseline":"middle","align":{"expr":"['center','left','left','left','center','right','right','right'][datum.k]"},"dx":{"expr":"[0,5,3,5,0,-3,-3,-4][datum.k]"},"dy":{"expr":"[-12,-4,0,2,12,2,0,-4][datum.k]"}},"encoding":{"x":{"field":"ax","type":"quantitative"},"y":{"field":"ay","type":"quantitative"},"text":{"field":"g"}}}
]},
{"width":1,"height":1,"data":{"values":[]},"mark":"point"},
{"width":1,"height":162,"data":{"values":[]},"mark":"point"},
{"width":1,"height":1,"data":{"values":[]},"mark":"point"},
{"width":1,"height":1,"data":{"values":[]},"mark":"point"},
{"width":1,"height":1,"data":{"values":[]},"mark":"point"},
{"width":1,"height":1,"data":{"values":[]},"mark":"point"},
{"width":127,"height":127,"data":{"name":"i"},"title":{"text":"(i)","offset":6},
"transform":[{"calculate":"datum.g == 'HSD3B1' ? 3 : indexof(['CYP11A1','CYP17H','CYP17L','HSD3B2','CYP21A2','CYP11B1','CYP11B2','HSD17B3'], datum.g)","as":"k"},{"calculate":"datum.k*PI/4","as":"t"},{"calculate":"datum.v*sin(datum.t)","as":"x"},{"calculate":"datum.v*cos(datum.t)","as":"y"},{"calculate":"2*sin(datum.t)","as":"ax"},{"calculate":"2*cos(datum.t)","as":"ay"},{"calculate":"0","as":"o"}],
"layer":[
{"transform":[{"filter":"datum.s=='0.1'"}],"mark":{"type":"rule","strokeDash":[1,3.5],"color":"#555","strokeWidth":1},"encoding":{"x":{"field":"o","type":"quantitative","scale":{"domain":[-2,2],"nice":false,"zero":false},"axis":null},"y":{"field":"o","type":"quantitative","scale":{"domain":[-2,2],"nice":false,"zero":false},"axis":null},"x2":{"field":"ax"},"y2":{"field":"ay"}}},
{"transform":[{"filter":"datum.s=='0.1'"}],"mark":{"type":"line","interpolate":"linear-closed","color":"black","strokeWidth":1.3},"encoding":{"x":{"field":"ax","type":"quantitative"},"y":{"field":"ay","type":"quantitative"},"order":{"field":"k"}}},
{"mark":{"type":"line","interpolate":"linear-closed","strokeWidth":1.2,"clip":true},"encoding":{"x":{"field":"x","type":"quantitative"},"y":{"field":"y","type":"quantitative"},"order":{"field":"k"},"color":{"field":"s","type":"nominal","scale":{"domain":["0.1","1.0","10"],"range":["#4F81BD","#C0504D","#9BBB59"]},"legend":{"legendX":-62.7,"legendY":167.3,"title":"KC (μM)","titleAlign":"right","columns":2,"columnPadding":21.5,"rowPadding":7,"titlePadding":8.4,"symbolOffset":27.5}}}},
{"mark":{"type":"point","filled":true,"size":56,"opacity":1,"clip":true},"encoding":{"x":{"field":"x","type":"quantitative"},"y":{"field":"y","type":"quantitative"},
"color":{"field":"s","type":"nominal","scale":{"domain":["0.1","1.0","10"],"range":["#4F81BD","#C0504D","#9BBB59"]},"legend":{"legendX":-62.7,"legendY":167.3,"title":"KC (μM)","titleAlign":"right","columns":2,"columnPadding":21.5,"rowPadding":7,"titlePadding":8.4,"symbolOffset":27.5}},
"shape":{"field":"s","type":"nominal","scale":{"domain":["0.1","1.0","10"],"range":["M-2.9,0H2.9M0,-1L1,0L0,1L-1,0Z","M-2.9,0H2.9M-0.85,-0.85H0.85V0.85H-0.85Z","M-2.9,0H2.9M0,-1L1.05,0.82H-1.05Z"]},"legend":{"legendX":-62.7,"legendY":167.3,"title":"KC (μM)","titleAlign":"right","columns":2,"columnPadding":21.5,"rowPadding":7,"titlePadding":8.4,"symbolOffset":27.5}}}},
{"data":{"name":"ticks"},"transform":[{"calculate":"0","as":"o"}],"mark":{"type":"text","align":"right","dx":-3,"dy":1,"fontSize":11,"baseline":"middle"},"encoding":{"x":{"field":"o","type":"quantitative"},"y":{"field":"v","type":"quantitative"},"text":{"field":"v","type":"quantitative","format":".1f"}}},
{"transform":[{"filter":"datum.s=='0.1'"}],"mark":{"type":"text","baseline":"middle","align":{"expr":"['center','left','left','left','center','right','right','right'][datum.k]"},"dx":{"expr":"[0,5,3,5,0,-3,-3,-4][datum.k]"},"dy":{"expr":"[-12,-4,0,2,12,2,0,-4][datum.k]"}},"encoding":{"x":{"field":"ax","type":"quantitative"},"y":{"field":"ay","type":"quantitative"},"text":{"field":"g"}}}
]},
{"width":1,"height":1,"data":{"values":[]},"mark":"point"},
{"width":127,"height":127,"data":{"name":"j"},"title":{"text":"(j)","offset":6.4},
"transform":[{"calculate":"datum.g == 'HSD3B1' ? 3 : indexof(['CYP11A1','CYP17H','CYP17L','HSD3B2','CYP21A2','CYP11B1','CYP11B2','HSD17B3'], datum.g)","as":"k"},{"calculate":"datum.k*PI/4","as":"t"},{"calculate":"datum.v*sin(datum.t)","as":"x"},{"calculate":"datum.v*cos(datum.t)","as":"y"},{"calculate":"2*sin(datum.t)","as":"ax"},{"calculate":"2*cos(datum.t)","as":"ay"},{"calculate":"0","as":"o"}],
"layer":[
{"transform":[{"filter":"datum.s=='0.1'"}],"mark":{"type":"rule","strokeDash":[1,3.5],"color":"#555","strokeWidth":1},"encoding":{"x":{"field":"o","type":"quantitative","scale":{"domain":[-2,2],"nice":false,"zero":false},"axis":null},"y":{"field":"o","type":"quantitative","scale":{"domain":[-2,2],"nice":false,"zero":false},"axis":null},"x2":{"field":"ax"},"y2":{"field":"ay"}}},
{"transform":[{"filter":"datum.s=='0.1'"}],"mark":{"type":"line","interpolate":"linear-closed","color":"black","strokeWidth":1.3},"encoding":{"x":{"field":"ax","type":"quantitative"},"y":{"field":"ay","type":"quantitative"},"order":{"field":"k"}}},
{"mark":{"type":"line","interpolate":"linear-closed","strokeWidth":1.2,"clip":true},"encoding":{"x":{"field":"x","type":"quantitative"},"y":{"field":"y","type":"quantitative"},"order":{"field":"k"},"color":{"field":"s","type":"nominal","scale":{"domain":["0.1","1.0","10"],"range":["#4F81BD","#C0504D","#9BBB59"]},"legend":{"legendX":-70.1,"legendY":162.9,"title":"MC (μM)","titleAlign":"right","columns":2,"columnPadding":32.3,"rowPadding":7,"titlePadding":13,"symbolOffset":20.4}}}},
{"mark":{"type":"point","filled":true,"size":56,"opacity":1,"clip":true},"encoding":{"x":{"field":"x","type":"quantitative"},"y":{"field":"y","type":"quantitative"},
"color":{"field":"s","type":"nominal","scale":{"domain":["0.1","1.0","10"],"range":["#4F81BD","#C0504D","#9BBB59"]},"legend":{"legendX":-70.1,"legendY":162.9,"title":"MC (μM)","titleAlign":"right","columns":2,"columnPadding":32.3,"rowPadding":7,"titlePadding":13,"symbolOffset":20.4}},
"shape":{"field":"s","type":"nominal","scale":{"domain":["0.1","1.0","10"],"range":["M-2.9,0H2.9M0,-1L1,0L0,1L-1,0Z","M-2.9,0H2.9M-0.85,-0.85H0.85V0.85H-0.85Z","M-2.9,0H2.9M0,-1L1.05,0.82H-1.05Z"]},"legend":{"legendX":-70.1,"legendY":162.9,"title":"MC (μM)","titleAlign":"right","columns":2,"columnPadding":32.3,"rowPadding":7,"titlePadding":13,"symbolOffset":20.4}}}},
{"transform":[{"filter":"datum.v > 2"}],"mark":{"type":"text","baseline":"middle","align":{"expr":"['center','left','left','left','center','right','right','right'][datum.k]"},"dx":{"expr":"[0,15,15,15,0,-20,-20,-20][datum.k]"},"dy":14},"encoding":{"x":{"field":"ax","type":"quantitative"},"y":{"field":"ay","type":"quantitative"},"text":{"field":"v","type":"quantitative","format":".2f"},"color":{"field":"s","type":"nominal","scale":{"domain":["0.1","1.0","10"],"range":["#4F81BD","#C0504D","#9BBB59"]},"legend":null}}},
{"data":{"name":"ticks"},"transform":[{"calculate":"0","as":"o"}],"mark":{"type":"text","align":"right","dx":-3,"dy":1,"fontSize":11,"baseline":"middle"},"encoding":{"x":{"field":"o","type":"quantitative"},"y":{"field":"v","type":"quantitative"},"text":{"field":"v","type":"quantitative","format":".1f"}}},
{"transform":[{"filter":"datum.s=='0.1'"}],"mark":{"type":"text","baseline":"middle","align":{"expr":"['center','left','left','left','center','right','right','right'][datum.k]"},"dx":{"expr":"[0,5,3,5,0,-3,-3,-4][datum.k]"},"dy":{"expr":"[-12,-4,0,2,12,2,0,-4][datum.k]"}},"encoding":{"x":{"field":"ax","type":"quantitative"},"y":{"field":"ay","type":"quantitative"},"text":{"field":"g"}}}
]},
{"width":1,"height":1,"data":{"values":[]},"mark":"point"},
{"width":127,"height":127,"data":{"name":"k"},"title":{"text":"(k)","offset":7.7},
"transform":[{"calculate":"datum.g == 'HSD3B1' ? 3 : indexof(['CYP11A1','CYP17H','CYP17L','HSD3B2','CYP21A2','CYP11B1','CYP11B2','HSD17B3'], datum.g)","as":"k"},{"calculate":"datum.k*PI/4","as":"t"},{"calculate":"datum.v*sin(datum.t)","as":"x"},{"calculate":"datum.v*cos(datum.t)","as":"y"},{"calculate":"2*sin(datum.t)","as":"ax"},{"calculate":"2*cos(datum.t)","as":"ay"},{"calculate":"0","as":"o"}],
"layer":[
{"transform":[{"filter":"datum.s=='0.1'"}],"mark":{"type":"rule","strokeDash":[1,3.5],"color":"#555","strokeWidth":1},"encoding":{"x":{"field":"o","type":"quantitative","scale":{"domain":[-2,2],"nice":false,"zero":false},"axis":null},"y":{"field":"o","type":"quantitative","scale":{"domain":[-2,2],"nice":false,"zero":false},"axis":null},"x2":{"field":"ax"},"y2":{"field":"ay"}}},
{"transform":[{"filter":"datum.s=='0.1'"}],"mark":{"type":"line","interpolate":"linear-closed","color":"black","strokeWidth":1.3},"encoding":{"x":{"field":"ax","type":"quantitative"},"y":{"field":"ay","type":"quantitative"},"order":{"field":"k"}}},
{"mark":{"type":"line","interpolate":"linear-closed","strokeWidth":1.2,"clip":true},"encoding":{"x":{"field":"x","type":"quantitative"},"y":{"field":"y","type":"quantitative"},"order":{"field":"k"},"color":{"field":"s","type":"nominal","scale":{"domain":["0.1","1.0","10","100"],"range":["#4F81BD","#C0504D","#9BBB59","#8064A2"]},"legend":{"legendX":-68.5,"legendY":166.2,"title":"DZ (μM)","titleAlign":"right","columns":2,"columnPadding":21,"rowPadding":2,"titlePadding":15,"symbolOffset":23}}}},
{"mark":{"type":"point","filled":true,"size":56,"opacity":1,"clip":true},"encoding":{"x":{"field":"x","type":"quantitative"},"y":{"field":"y","type":"quantitative"},
"color":{"field":"s","type":"nominal","scale":{"domain":["0.1","1.0","10","100"],"range":["#4F81BD","#C0504D","#9BBB59","#8064A2"]},"legend":{"legendX":-68.5,"legendY":166.2,"title":"DZ (μM)","titleAlign":"right","columns":2,"columnPadding":21,"rowPadding":2,"titlePadding":15,"symbolOffset":23}},
"shape":{"field":"s","type":"nominal","scale":{"domain":["0.1","1.0","10","100"],"range":["M-2.9,0H2.9M0,-1L1,0L0,1L-1,0Z","M-2.9,0H2.9M-0.85,-0.85H0.85V0.85H-0.85Z","M-2.9,0H2.9M0,-1L1.05,0.82H-1.05Z","M-2.9,0H2.9M-1,0A1,1,0,1,1,1,0A1,1,0,1,1,-1,0Z"]},"legend":{"legendX":-68.5,"legendY":166.2,"title":"DZ (μM)","titleAlign":"right","columns":2,"columnPadding":21,"rowPadding":2,"titlePadding":15,"symbolOffset":23}}}},
{"data":{"name":"ticks"},"transform":[{"calculate":"0","as":"o"}],"mark":{"type":"text","align":"right","dx":-3,"dy":1,"fontSize":11,"baseline":"middle"},"encoding":{"x":{"field":"o","type":"quantitative"},"y":{"field":"v","type":"quantitative"},"text":{"field":"v","type":"quantitative","format":".1f"}}},
{"transform":[{"filter":"datum.s=='0.1'"}],"mark":{"type":"text","baseline":"middle","align":{"expr":"['center','left','left','left','center','right','right','right'][datum.k]"},"dx":{"expr":"[0,5,3,5,0,-3,-3,-4][datum.k]"},"dy":{"expr":"[-12,-4,0,2,12,2,0,-4][datum.k]"}},"encoding":{"x":{"field":"ax","type":"quantitative"},"y":{"field":"ay","type":"quantitative"},"text":{"field":"g"}}}
]}
]
}
